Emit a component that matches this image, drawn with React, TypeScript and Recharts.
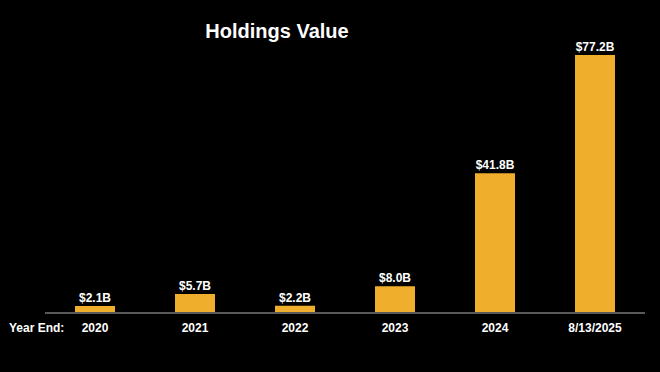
import { BarChart, Bar, XAxis, YAxis, LabelList } from 'recharts'

const years = ['2020', '2021', '2022', '2023', '2024', '8/13/2025']
const holdings = [2.1, 5.7, 2.2, 8.0, 41.8, 77.2]

const chartData = years.map((year, i) => ({
  year,
  value: holdings[i],
  label: `$${holdings[i].toFixed(1)}B`,
}))

const FONT = '"Liberation Sans", Arial, sans-serif'

export default function App() {
  return (
    <div
      style={{
        position: 'fixed',
        left: 0,
        top: 0,
        width: 660,
        height: 372,
        background: '#000',
        fontFamily: FONT,
      }}
    >
      <BarChart
        width={660}
        height={372}
        data={chartData}
        margin={{ top: 55, right: 15, left: 45, bottom: 29 }}
      >
        <XAxis
          dataKey="year"
          height={30}
          interval={0}
          tickLine={false}
          tickMargin={4}
          axisLine={{ stroke: '#5a5a5a', strokeWidth: 2 }}
          tick={{ fill: '#fff', fontSize: 12, fontWeight: 700, fontFamily: FONT }}
        />
        <YAxis hide domain={[0, 77.2]} />
        <Bar dataKey="value" barSize={40} fill="#f0ae2d" isAnimationActive={false}>
          <LabelList
            dataKey="label"
            position="top"
            offset={4}
            fill="#fff"
            fontSize={12}
            fontWeight={700}
            fontFamily={FONT}
          />
        </Bar>
      </BarChart>

      <svg
        width={660}
        height={372}
        style={{ position: 'absolute', left: 0, top: 0, pointerEvents: 'none' }}
      >
        <text
          x={277}
          y={37.5}
          textAnchor="middle"
          fill="#fff"
          fontSize={20}
          fontWeight={700}
          fontFamily={FONT}
        >
          Holdings Value
        </text>
        <text x={9} y={332} fill="#fff" fontSize={12} fontWeight={700} fontFamily={FONT}>
          Year End:
        </text>
      </svg>
    </div>
  )
}
